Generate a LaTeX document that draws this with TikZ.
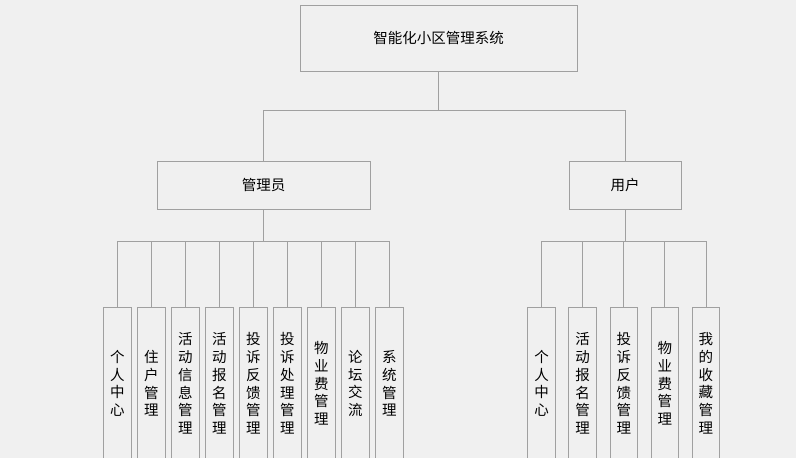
\documentclass[tikz,border=0pt]{standalone}
\usepackage{fontspec}
\setmainfont{Noto Sans CJK SC}
\usepackage{tikz}
\usetikzlibrary{trees, positioning}

\definecolor{bgcol}{HTML}{F0F0F0}
\definecolor{linecol}{HTML}{A0A0A0}

\tikzset{
  box/.style={draw=linecol, line width=0.9pt, fill=bgcol, inner sep=0pt, font=\fontsize{14.5}{17.7}\selectfont},
  rootbox/.style={box, minimum width=277pt, minimum height=66pt},
  rolebox/.style={box, minimum height=48pt},
  leafbox/.style={box, anchor=north, minimum width=27.5pt, minimum height=152pt, align=center},
}

\begin{document}
\begin{tikzpicture}[x=1pt, y=1pt,
    edge from parent/.style={draw=linecol, line width=0.9pt},
    level 1/.style={level distance=147pt, sibling distance=370.5pt,
      edge from parent path={(\tikzparentnode.south) -- ++(0,-39pt) -| (\tikzchildnode.north)}},
    level 2/.style={level distance=122pt,
      edge from parent path={(\tikzparentnode.south) -- ++(0,-32pt) -| (\tikzchildnode.north)}}]
    \fill[bgcol] (0,0) rectangle (796,-458);
    \useasboundingbox (0,0) rectangle (796,-458);
    \clip (0,0) rectangle (796,-458);
    \node[rootbox] (root) at (438.5,-38) {智能化小区管理系统}
    child { node[rolebox, minimum width=213pt, xshift=10.25pt] (admin) {管理员}
              [sibling distance=34pt, every child/.style={xshift=-10.25pt}]
            child { node[leafbox] (a1) {个\\人\\中\\心} }
            child { node[leafbox] (a2) {住\\户\\管\\理} }
            child { node[leafbox] (a3) {活\\动\\信\\息\\管\\理} }
            child { node[leafbox] (a4) {活\\动\\报\\名\\管\\理} }
            child { node[leafbox] (a5) {投\\诉\\反\\馈\\管\\理} }
            child { node[leafbox] (a6) {投\\诉\\处\\理\\管\\理} }
            child { node[leafbox] (a7) {物\\业\\费\\管\\理} }
            child { node[leafbox] (a8) {论\\坛\\交\\流} }
            child { node[leafbox] (a9) {系\\统\\管\\理} }
          }
    child { node[rolebox, minimum width=112pt, xshift=1.25pt] (user) {用户}
              [sibling distance=41.1pt, every child/.style={xshift=-1.25pt}]
            child { node[leafbox] (u1) {个\\人\\中\\心} }
            child { node[leafbox] (u2) {活\\动\\报\\名\\管\\理} }
            child { node[leafbox] (u3) {投\\诉\\反\\馈\\管\\理} }
            child { node[leafbox] (u4) {物\\业\\费\\管\\理} }
            child { node[leafbox] (u5) {我\\的\\收\\藏\\管\\理} }
          };
\end{tikzpicture}
\end{document}
